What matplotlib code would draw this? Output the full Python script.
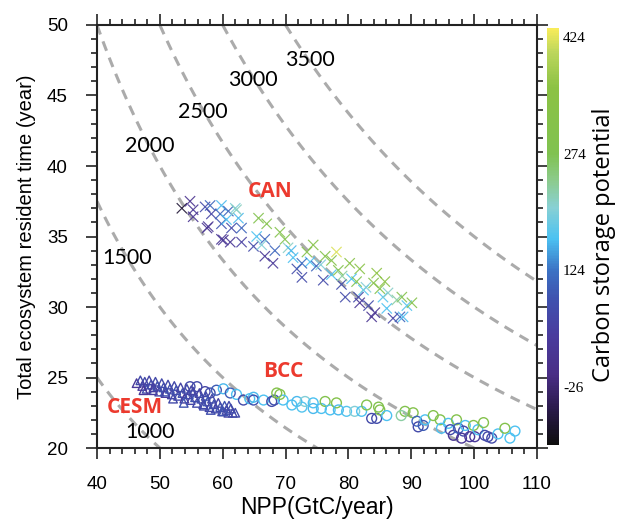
import numpy as np
import matplotlib
matplotlib.use("Agg")
import matplotlib.pyplot as plt
from matplotlib.colors import LinearSegmentedColormap, Normalize
from matplotlib.cm import ScalarMappable
from matplotlib.ticker import MultipleLocator

plt.rcParams["axes.unicode_minus"] = False

# ---- iso-lines of carbon storage (NPP x residence time) ----
storage_levels = [1000, 1500, 2000, 2500, 3000, 3500]
storage_label_npp = [48.4, 44.8, 48.4, 56.9, 64.8, 73.9]
storage_label_tau = [21.1, 33.5, 41.4, 43.8, 46.1, 47.5]

# ---- CAN model (x markers) ----
can_npp = [53.5, 54.8, 55.3, 55.3, 57.2, 58.0, 58.2, 57.7, 59.8, 59.6,
           59.8, 60.9, 60.6, 62.0, 62.5, 61.4, 63.0, 59.8, 61.2, 63.0,
           65.7, 67.0, 65.4, 66.7, 64.9, 66.7, 68.0, 68.3, 69.1, 69.9,
           70.4, 71.2, 71.8, 72.6, 73.4, 74.4, 73.9, 74.9, 76.3, 77.3,
           78.1, 76.0, 77.3, 78.4, 78.9, 79.5, 80.2, 81.8, 80.5, 81.3,
           82.4, 81.6, 81.8, 83.2, 84.0, 85.0, 85.8, 85.5, 86.3, 86.1,
           84.2, 83.7, 87.1, 88.2, 88.5, 89.3, 90.1, 88.7, 87.7, 84.5,
           72.6, 66.2, 57.5, 60.1, 62.2, 70.9, 75.6, 79.0, 82.8]
can_tau = [37.0, 37.5, 36.9, 36.4, 37.1, 37.2, 36.6, 35.7, 37.2, 36.6,
           35.9, 36.8, 36.2, 37.0, 36.3, 35.6, 35.6, 34.8, 34.6, 34.6,
           36.3, 35.9, 35.0, 34.8, 34.3, 33.6, 33.1, 34.0, 35.3, 34.8,
           34.2, 33.5, 32.7, 32.1, 33.9, 34.4, 33.2, 32.9, 33.6, 33.3,
           33.9, 31.9, 32.3, 32.6, 31.6, 30.7, 33.1, 32.7, 32.0, 31.8,
           31.2, 30.7, 30.3, 30.1, 31.7, 31.3, 31.8, 30.7, 31.0, 29.9,
           29.6, 29.3, 29.2, 29.3, 30.7, 30.1, 30.3, 29.3, 30.5, 32.4,
           33.1, 34.4, 35.6, 34.75, 36.9, 34.0, 33.0, 32.2, 31.4]
can_csp = [-70, 10, 20, 15, 70, 110, 60, 20, 160, 110,
           90, 110, 165, 200, 160, 70, 110, 20, 25, 50,
           290, 300, 165, 110, 70, 25, 30, 110, 300, 290,
           210, 165, 75, 70, 310, 320, 165, 110, 300, 310,
           420, 70, 165, 290, 75, 70, 330, 340, 165, 290,
           170, 70, 25, 70, 320, 300, 350, 170, 210, 165,
           20, 15, 60, 110, 300, 170, 310, 160, 230, 360,
           120, 200, 15, 25, 215, 160, 200, 230, 200]

# ---- BCC model (circles) ----
bcc_npp = [54.8, 55.9, 57.2, 58.0, 59.0, 60.1, 61.2, 62.2, 63.3, 64.3,
           64.9, 64.9, 66.5, 67.8, 68.2, 69.1, 69.6, 71.0, 71.8, 72.6,
           73.1, 74.4, 74.4, 75.7, 76.3, 77.1, 78.1, 78.4, 79.7, 81.0,
           82.1, 82.9, 83.7, 84.5, 85.0, 84.8, 86.1, 89.0, 90.3, 90.9,
           91.1, 91.9, 92.2, 93.5, 94.6, 94.8, 95.9, 96.2, 96.7, 97.2,
           97.5, 98.0, 98.3, 98.6, 99.3, 100.1, 99.9, 100.6, 101.5, 101.7,
           102.2, 102.8, 103.8, 104.9, 105.7, 106.5, 88.4, 68.6]
bcc_tau = [24.35, 24.35, 24.0, 23.9, 24.1, 24.2, 23.9, 23.8, 23.4, 23.5,
           23.6, 23.4, 23.4, 23.3, 23.4, 23.8, 23.4, 23.05, 23.3, 22.9,
           23.3, 23.2, 22.8, 22.8, 23.3, 22.7, 23.2, 22.7, 22.6, 22.6,
           22.6, 23.05, 22.1, 22.1, 22.7, 22.9, 22.3, 22.6, 22.5, 21.9,
           21.5, 21.6, 22.0, 22.3, 22.0, 21.4, 21.75, 21.3, 20.9, 22.0,
           21.4, 20.7, 21.2, 21.6, 20.8, 20.8, 21.6, 21.3, 21.8, 20.9,
           20.8, 20.7, 21.0, 21.4, 20.7, 21.2, 22.3, 23.9]
bcc_csp = [70, 70, 60, 80, 100, 160, 100, 165, 70, 165,
           160, 80, 165, 70, 80, 290, 165, 165, 160, 170,
           200, 165, 160, 165, 290, 165, 300, 160, 170, 200,
           165, 290, 70, 75, 300, 290, 165, 290, 300, 110,
           70, 100, 165, 300, 290, 165, 165, 70, 20, 300,
           110, 25, 70, 165, 30, 30, 300, 165, 300, 70,
           70, 70, 165, 300, 165, 165, 230, 300]

# ---- CESM model (triangles) ----
cesm_npp = [46.3, 46.9, 47.2, 47.6, 47.9, 48.3, 48.6, 48.9, 49.3, 49.6,
            49.9, 50.3, 50.6, 50.9, 51.3, 51.6, 51.9, 52.3, 52.6, 52.9,
            53.3, 53.6, 53.9, 54.3, 54.6, 54.9, 55.3, 55.6, 55.9, 56.3,
            56.6, 56.9, 57.3, 57.6, 57.9, 58.3, 58.6, 58.9, 59.3, 59.6,
            59.9, 60.3, 60.6, 60.9, 61.3, 61.6, 62.0, 47.4, 49.0, 50.8,
            52.1, 53.8, 55.0, 57.0, 58.1, 60.1, 61.0]
cesm_tau = [24.6, 24.8, 24.4, 24.7, 24.2, 24.8, 24.5, 24.1, 24.7, 24.4,
            24.0, 24.6, 24.3, 23.9, 24.5, 24.2, 23.8, 24.4, 24.1, 23.7,
            24.3, 23.9, 23.5, 24.2, 23.8, 23.4, 24.0, 23.6, 23.2, 23.9,
            23.5, 23.1, 23.7, 23.3, 22.9, 23.5, 23.1, 22.8, 23.2, 22.9,
            22.6, 23.0, 22.7, 22.5, 22.8, 22.5, 22.5, 24.1, 24.3, 24.0,
            23.5, 23.2, 24.1, 23.0, 22.7, 22.6, 23.0]
cesm_csp = [30, 70, 40, 70, 80, 60, 70, 40, 70, 80,
            60, 70, 80, 40, 70, 80, 60, 70, 90, 70,
            60, 80, 40, 70, 80, 60, 70, 90, 70, 60,
            80, 70, 70, 90, 60, 70, 80, 70, 60, 80,
            70, 90, 70, 60, 80, 70, 70, 30, 50, 80,
            70, 90, 60, 70, 80, 90, 70]

cbar_ticks = [-26, 124, 274, 424]
csp_min, csp_max = -100, 435

model_names = ["CAN", "BCC", "CESM"]
model_label_npp = [67.5, 69.6, 46.0]
model_label_tau = [38.2, 25.4, 22.9]

# ---- colour map for carbon storage potential ----
anchors = [(-100, "#0e0e0e"), (-55, "#2a1a4a"), (-10, "#4a2e86"),
           (40, "#4a3c9e"), (90, "#3f54b0"), (124, "#3c72c4"),
           (165, "#4cc2f2"), (205, "#88d0d4"), (240, "#8ccb8c"),
           (274, "#80c250"), (360, "#8cc244"), (405, "#bcd65c"),
           (435, "#f8ec5a")]
cmap = LinearSegmentedColormap.from_list(
    "csp", [((v - csp_min) / (csp_max - csp_min), c) for v, c in anchors])
norm = Normalize(vmin=csp_min, vmax=csp_max)

fig = plt.figure(figsize=(6.17, 5.23), dpi=100)
ax = fig.add_axes([0.1572, 0.1434, 0.7131, 0.8088])
cax = fig.add_axes([0.8865, 0.1491, 0.0195, 0.797])

# dashed iso-storage curves
gx = np.linspace(40, 110, 400)
gy = np.linspace(20, 50, 400)
GX, GY = np.meshgrid(gx, gy)
ax.contour(GX, GY, GX * GY, levels=storage_levels, colors="#ababab",
           linewidths=2.2, linestyles=[(0, (3.3, 2.4))])
for lev, lx, ly in zip(storage_levels, storage_label_npp, storage_label_tau):
    ax.text(lx, ly, f"{lev}", fontsize=15.5, family="Lato", color="black",
            ha="center", va="center")

# model scatter clouds
ax.scatter(can_npp, can_tau, c=can_csp, cmap=cmap, norm=norm, marker="x",
           s=55, linewidths=0.85, alpha=0.9, zorder=3)
ax.scatter(bcc_npp, bcc_tau, facecolors="none",
           edgecolors=cmap(norm(np.array(bcc_csp))), marker="o",
           s=50, linewidths=1.0, zorder=3)
ax.scatter(cesm_npp, cesm_tau, facecolors="none",
           edgecolors=cmap(norm(np.array(cesm_csp))), marker="^",
           s=38, linewidths=1.0, zorder=3)

for name, lx, ly in zip(model_names, model_label_npp, model_label_tau):
    ax.text(lx, ly, name, fontsize=15, family="Open Sans", fontweight="bold",
            color="#ec3a2e", ha="center", va="center", zorder=4)

ax.set_xlim(40, 110)
ax.set_ylim(20, 50)
ax.xaxis.set_major_locator(MultipleLocator(10))
ax.xaxis.set_minor_locator(MultipleLocator(2))
ax.yaxis.set_major_locator(MultipleLocator(5))
ax.yaxis.set_minor_locator(MultipleLocator(1))
ax.tick_params(which="both", direction="out", top=True, right=True,
               labeltop=False, labelright=False, width=1.2, color="#222222")
ax.tick_params(which="major", length=8, labelsize=13.5, pad=12)
ax.tick_params(axis="y", which="major", pad=13)
ax.tick_params(which="minor", length=4.5)
for lab in ax.get_xticklabels() + ax.get_yticklabels():
    lab.set_family("Liberation Sans")
for sp in ax.spines.values():
    sp.set_linewidth(1.5)
    sp.set_color("#222222")

ax.set_xlabel("NPP(GtC/year)", fontsize=16.5, family="Liberation Sans",
              labelpad=2)
ax.set_ylabel("Total ecosystem resident time (year)", fontsize=14.5,
              family="Liberation Sans", labelpad=8)

cb = fig.colorbar(ScalarMappable(norm=norm, cmap=cmap), cax=cax,
                  ticks=cbar_ticks)
cb.outline.set_visible(False)
cax.tick_params(length=0, labelsize=11, pad=3)
for lab in cax.get_yticklabels():
    lab.set_family("Liberation Serif")
fig.text(604 / 617, 1 - 245 / 523, "Carbon storage potential",
         rotation=90, fontsize=17, family="Open Sans",
         ha="center", va="center")

fig.savefig("out.png", dpi=100)
